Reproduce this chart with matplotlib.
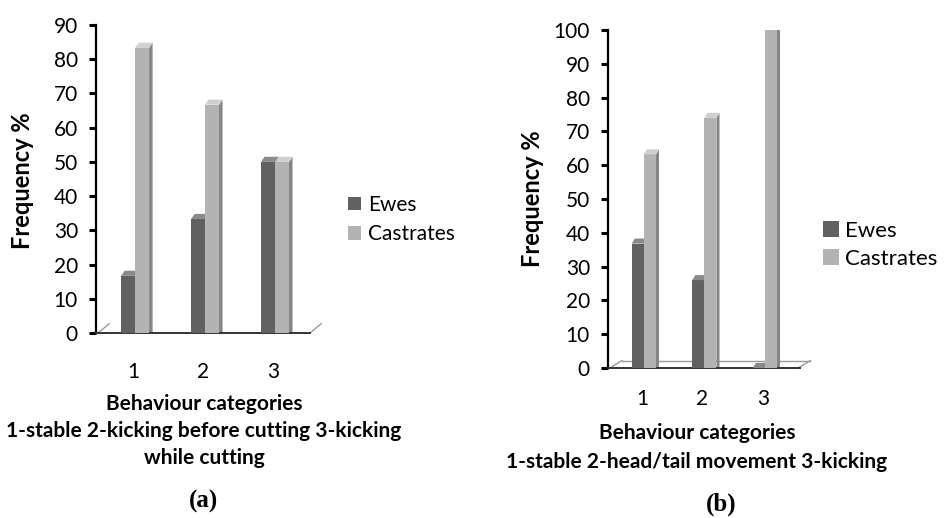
import matplotlib
matplotlib.use("Agg")
import matplotlib.pyplot as plt

plt.rcParams['font.family'] = ['Lato', 'DejaVu Sans']

# data
categories = ['1', '2', '3']
ewes_a = [16.7, 33.3, 50.0]
castrates_a = [83.3, 66.7, 50.0]
ewes_b = [36.8, 26.0, 0.0]
castrates_b = [63.2, 74.0, 100.0]

W, H = 944, 518
fig = plt.figure(figsize=(W / 100, H / 100), dpi=100)

EWES = '#616161'
EWES_SIDE = '#4a4a4a'
EWES_TOP = '#8a8a8a'
CAST = '#b3b3b3'
CAST_SIDE = '#858585'
CAST_TOP = '#d0d0d0'


def px_axes(x0, x1, y_top, y_bot):
    return fig.add_axes([x0 / W, (H - y_bot) / H, (x1 - x0) / W, (y_bot - y_top) / H])


def bar3d(ax, xs, vals, left_off, w, d, dh, face, side, top, label):
    xl = [x + left_off for x in xs]
    bars = ax.bar(xl, vals, width=w, align='edge', color=face, label=label, zorder=3)
    for x0, v in zip(xl, vals):
        x1 = x0 + w
        ax.fill([x1, x1, x1 + d, x1 + d], [0, v, v + dh, 0], color=side, lw=0, zorder=2)
        ax.fill([x0, x0 + d, x1 + d, x1], [v, v + dh, v + dh, v], color=top, lw=0, zorder=3)
    return bars


def panel(ax, ewes, cast, ymax, xlim, tick_pad, dh, d, floor_box):
    xs = [1, 2, 3]
    w = 0.2
    b1 = bar3d(ax, xs, ewes, -0.17, w, d, dh, EWES, EWES_SIDE, EWES_TOP, 'Ewes')
    b2 = bar3d(ax, xs, cast, 0.03, w, d, dh, CAST, CAST_SIDE, CAST_TOP, 'Castrates')
    ax.set_xlim(*xlim)
    ax.set_ylim(0, ymax)
    ax.set_yticks(range(0, ymax + 1, 10))
    ax.set_xticks(xs)
    ax.set_xticklabels(categories)
    for s in ['top', 'right']:
        ax.spines[s].set_visible(False)
    ax.spines['left'].set_linewidth(1.6)
    ax.spines['left'].set_color('black')
    ax.spines['bottom'].set_linewidth(1.4)
    ax.spines['bottom'].set_color('#333333')
    ax.tick_params(axis='y', direction='out', length=5, width=2.2, labelsize=15, pad=8)
    ax.tick_params(axis='x', length=0, labelsize=15, pad=tick_pad)
    # floor of the 3d plot
    fx0, fx1, fd, fdh, fill = floor_box
    ax.plot([fx0, fx0 + fd], [0, fdh], color='#9a9a9a', lw=1, clip_on=False, zorder=1)
    ax.plot([fx1, fx1 + fd], [0, fdh], color='#9a9a9a', lw=1, clip_on=False, zorder=1)
    if fill:
        ax.plot([fx0 + fd, fx1 + fd], [fdh, fdh], color='#9a9a9a', lw=1, clip_on=False, zorder=1)
    ax.set_facecolor('none')
    return b1, b2


# panel (a)
ax1 = px_axes(96, 310, 25, 333)
h1 = panel(ax1, ewes_a, castrates_a, 90, (0.471, 3.53), 21, 1.5, 0.05,
           (0.5, 3.53, 0.16, 2.7, False))
# panel (b)
ax2 = px_axes(608, 800, 30, 368)
h2 = panel(ax2, ewes_b, castrates_b, 100, (0.438, 3.61), 15, 1.5, 0.05,
           (0.47, 3.58, 0.2, 2.2, True))


def ftext(x, y, s, **kw):
    fig.text(x / W, 1 - y / H, s, ha='center', va='center', **kw)


ftext(22, 181, 'Frequency %', rotation=90, fontsize=17, fontweight='bold')
ftext(533, 199, 'Frequency %', rotation=90, fontsize=17, fontweight='bold')

ftext(204, 404, 'Behaviour categories', fontsize=15, fontweight='bold')
ftext(204, 431, '1-stable 2-kicking before cutting 3-kicking', fontsize=15, fontweight='bold')
ftext(204, 458, 'while cutting', fontsize=15, fontweight='bold')
ftext(697, 433, 'Behaviour categories', fontsize=15, fontweight='bold')
ftext(697, 462, '1-stable 2-head/tail movement 3-kicking', fontsize=15, fontweight='bold')

ftext(204, 501, '(a)', fontsize=18, fontweight='bold', family='Liberation Serif')
ftext(721, 504, '(b)', fontsize=18, fontweight='bold', family='Liberation Serif')

fig.legend(h1, ['Ewes', 'Castrates'], loc='upper left',
           bbox_to_anchor=(329 / W, 1 - 176 / H), frameon=False, fontsize=15,
           handlelength=0.62, handleheight=0.62, handletextpad=0.35, labelspacing=0.45)
fig.legend(h2, ['Ewes', 'Castrates'], loc='upper left',
           bbox_to_anchor=(803 / W, 1 - 201 / H), frameon=False, fontsize=16,
           handlelength=0.7, handleheight=0.7, handletextpad=0.3, labelspacing=0.35)

fig.savefig('out.png', dpi=100)
